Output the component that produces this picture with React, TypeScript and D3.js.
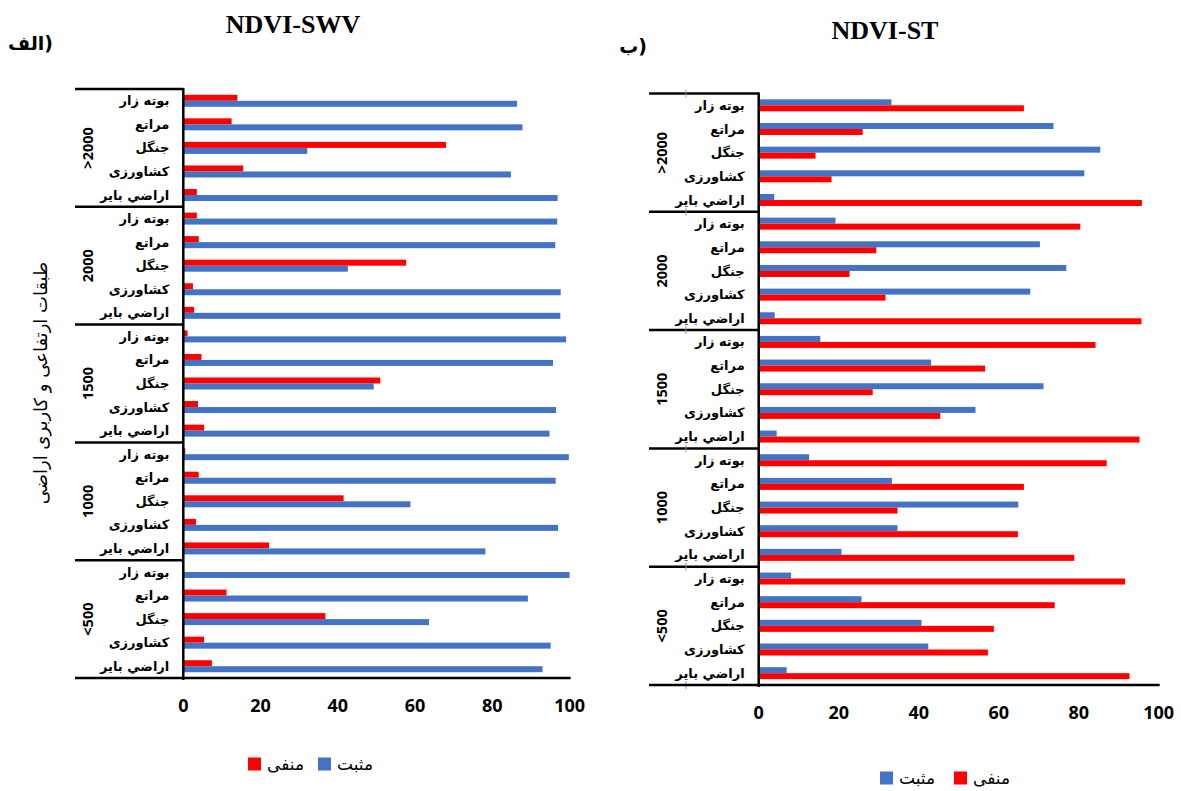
import React from "react";
import * as d3 from "d3";

// categories
const landUses = ["بوته زار", "مراتع", "جنگل", "کشاورزی", "اراضي باير"];
const elevGroups = [">2000", "2000", "1500", "1000", "<500"];
const ticks = [0, 20, 40, 60, 80, 100];

// NDVI-SWV (الف) - row order follows elevGroups x landUses
const swvNeg = [14, 12.5, 68, 15.5, 3.5, 3.5, 4, 57.7, 2.5, 2.8, 1.1, 4.7, 51, 3.8, 5.4, 0.5, 4, 41.5, 3.3, 22.2, 0, 11.2, 36.8, 5.4, 7.4];
const swvPos = [86.4, 87.8, 32.1, 84.8, 96.9, 96.8, 96.3, 42.6, 97.7, 97.6, 99.1, 95.7, 49.3, 96.5, 94.8, 99.8, 96.4, 58.8, 97, 78.2, 100, 89.2, 63.6, 95.1, 93];

// NDVI-ST (ب)
const stPos = [33.2, 73.7, 85.4, 81.4, 3.9, 19.2, 70.3, 76.9, 67.9, 4, 15.4, 43.1, 71.2, 54.2, 4.5, 12.6, 33.3, 64.9, 34.7, 20.7, 8.1, 25.7, 40.7, 42.4, 7];
const stNeg = [66.3, 26, 14.2, 18.2, 95.8, 80.4, 29.4, 22.7, 31.7, 95.7, 84.2, 56.6, 28.5, 45.4, 95.2, 87, 66.3, 34.7, 64.8, 78.9, 91.6, 74, 58.8, 57.3, 92.7];

const RED = "#ff0000";
const BLUE = "#4472c4";
const ARABIC = "'DejaVu Sans', sans-serif";
const NUM = "'Noto Sans', 'Open Sans', sans-serif";
const LRM = "\u200E";

const rows = elevGroups.flatMap((g) => landUses.map((u) => `${g}|${u}`));

const Panel = ({ x0, x1, top, bottom, boxLeft, innerTick, first, second, tickY }) => {
  const x = d3.scaleLinear().domain([0, 100]).range([x0, x1]);
  const y = d3.scaleBand().domain(rows).range([top, bottom]);
  const g = d3.scaleBand().domain(elevGroups).range([top, bottom]);
  const barH = 6;
  return (
    <g>
      {rows.map((r, i) => {
        const cy = y(r) + y.bandwidth() / 2;
        return (
          <g key={r}>
            <rect x={x(0)} y={cy - barH} width={x(first.values[i]) - x(0)} height={barH} fill={first.color} />
            <rect x={x(0)} y={cy} width={x(second.values[i]) - x(0)} height={barH} fill={second.color} />
            <text
              x={x0 - 14}
              y={cy}
              dy="0.35em"
              textAnchor="end"
              fontFamily={ARABIC}
              fontWeight="bold"
              fontSize={13}
            >
              {r.split("|")[1]}
            </text>
          </g>
        );
      })}
      {/* multi-level category box */}
      {elevGroups.map((eg) => (
        <g key={eg}>
          <line x1={boxLeft} x2={x0} y1={g(eg)} y2={g(eg)} stroke="#000" strokeWidth={2.5} />
          {innerTick && <line x1={innerTick} x2={innerTick} y1={g(eg) - 4} y2={g(eg) + 4} stroke="#999" strokeWidth={1} />}
          <text
            transform={`translate(${boxLeft + 13},${g(eg) + g.bandwidth() / 2}) rotate(-90)`}
            textAnchor="middle"
            dy="0.35em"
            fontFamily={NUM}
            fontWeight="bold"
            fontSize={14.5}
          >
            {eg}
          </text>
        </g>
      ))}
      {innerTick && <line x1={innerTick} x2={innerTick} y1={bottom - 4} y2={bottom + 4} stroke="#999" strokeWidth={1} />}
      <line x1={x0} x2={x0} y1={top - 1} y2={bottom + 2} stroke="#000" strokeWidth={2.5} />
      <line x1={boxLeft} x2={x1 + 1} y1={bottom} y2={bottom} stroke="#000" strokeWidth={2.5} />
      {ticks.map((t) => (
        <text key={t} x={x(t)} y={tickY} textAnchor="middle" fontFamily={NUM} fontWeight="bold" fontSize={18}>
          {t}
        </text>
      ))}
    </g>
  );
};

const LegendItem = ({ x, y, color, label }) => (
  <g>
    <rect x={x} y={y - 6.5} width={13} height={13} fill={color} />
    <text x={x + 19} y={y} dy="0.35em" fontFamily={ARABIC} fontSize={17} textAnchor="start">
      {label}
    </text>
  </g>
);

export default function App() {
  return (
    <div style={{ position: "absolute", left: 0, top: 0 }}>
      <svg width={1181} height={791} style={{ display: "block", background: "#fff" }}>
        {/* left panel */}
        <text x={293} y={33} textAnchor="middle" fontFamily="'Liberation Serif', serif" fontWeight="bold" fontSize={26}>
          NDVI-SWV
        </text>
        <text x={53} y={50} textAnchor="end" fontFamily={ARABIC} fontWeight="bold" fontSize={19}>
          {LRM + "الف)"}
        </text>
        <text
          transform="translate(41,383) rotate(-90)"
          textAnchor="middle"
          dy="0.35em"
          fontFamily={ARABIC}
          fontSize={18}
        >
          طبقات ارتفاعی و کاربری اراضی
        </text>
        <Panel
          x0={183.3}
          x1={569.6}
          top={89}
          bottom={678}
          boxLeft={75}
          innerTick={null}
          first={{ values: swvNeg, color: RED }}
          second={{ values: swvPos, color: BLUE }}
          tickY={712}
        />
        <LegendItem x={248} y={764} color={RED} label="منفی" />
        <LegendItem x={318} y={764} color={BLUE} label="مثبت" />

        {/* right panel */}
        <text x={885} y={39} textAnchor="middle" fontFamily="'Liberation Serif', serif" fontWeight="bold" fontSize={26}>
          NDVI-ST
        </text>
        <text x={647} y={53} textAnchor="end" fontFamily={ARABIC} fontWeight="bold" fontSize={19}>
          {LRM + "ب)"}
        </text>
        <Panel
          x0={758.7}
          x1={1158.7}
          top={93.5}
          bottom={685}
          boxLeft={649}
          innerTick={686}
          first={{ values: stPos, color: BLUE }}
          second={{ values: stNeg, color: RED }}
          tickY={719}
        />
        <LegendItem x={880} y={778} color={BLUE} label="مثبت" />
        <LegendItem x={954} y={778} color={RED} label="منفی" />
      </svg>
    </div>
  );
}
